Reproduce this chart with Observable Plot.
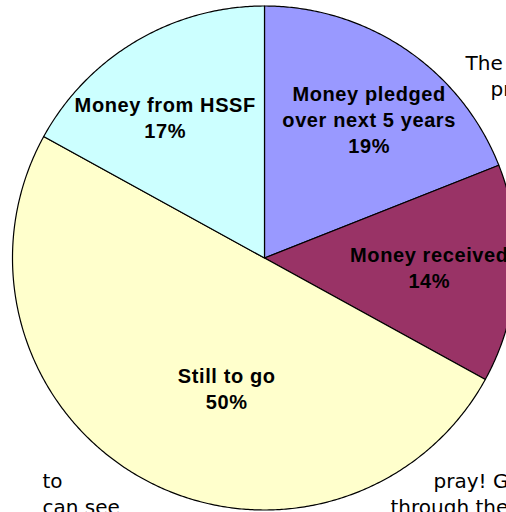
<!DOCTYPE html>
<html>
<head>
<meta charset="utf-8">
<script src="https://cdn.jsdelivr.net/npm/d3@7"></script>
<script src="https://cdn.jsdelivr.net/npm/@observablehq/plot@0.6"></script>
<style>
  html, body { margin: 0; padding: 0; background: #fff; overflow: hidden; }
  #chart svg { display: block; overflow: visible; }
  #chart .slice-label text { letter-spacing: 0.6px; }
</style>
</head>
<body>
<div id="chart"></div>
<script>
// ---- data ----
const categories = ["Money pledged\nover next 5 years", "Money received", "Still to go", "Money from HSSF"];
const shares = [19, 14, 50, 17];
const colors = ["#9999FF", "#993366", "#FFFFCC", "#CCFFFF"];
const backdropWords = ["The", "pr", "to", "can see", "pray! G", "through the"];

// ---- layout ----
const W = 506, H = 512;
const cx = 264, cy = 257.5, R = 252;
const labelRadius = [0.69, 0.655, 0.535, 0.685];
const labelTurn = [2.8, -0.5, -12.5, -4.5]; // degrees, nudging label from mid-angle
const backdropPos = [[465, 69], [490, 95], [42, 487], [42, 513], [433, 487], [390, 513]];

const total = d3.sum(shares);
let acc = 0;
const slices = shares.map((v, i) => {
  const a0 = acc / total * 2 * Math.PI;
  acc += v;
  const a1 = acc / total * 2 * Math.PI;
  return {i, name: categories[i], value: v, a0, a1, color: colors[i]};
});

const pts = [];
for (const s of slices) {
  pts.push({k: s.i, x: cx, y: cy, c: s.color});
  const n = Math.max(8, Math.ceil((s.a1 - s.a0) * 120));
  for (let j = 0; j <= n; j++) {
    const a = s.a0 + (s.a1 - s.a0) * j / n;
    pts.push({k: s.i, x: cx + R * Math.sin(a), y: cy - R * Math.cos(a), c: s.color});
  }
  pts.push({k: s.i, x: cx, y: cy, c: s.color});
}

const labels = slices.map(s => {
  const a = (s.a0 + s.a1) / 2 + labelTurn[s.i] * Math.PI / 180;
  const r = R * labelRadius[s.i];
  return {x: cx + r * Math.sin(a), y: cy - r * Math.cos(a), text: `${s.name}\n${s.value}%`};
});

const backdrop = backdropWords.map((t, i) => ({t, x: backdropPos[i][0], y: backdropPos[i][1]}));

const chart = Plot.plot({
  width: W, height: H,
  margin: 0,
  x: {domain: [0, W], range: [0, W], axis: null},
  y: {domain: [0, H], range: [0, H], axis: null},
  color: {type: "identity"},
  style: {background: "#fff", overflow: "visible"},
  marks: [
    Plot.text(backdrop, {x: "x", y: "y", text: "t", textAnchor: "start", lineAnchor: "bottom",
      fontFamily: "DejaVu Sans, Verdana, sans-serif", fontSize: 20, fill: "#000"}),
    Plot.line(pts, {x: "x", y: "y", z: "k", fill: "c", stroke: "#000", strokeWidth: 1.2,
      strokeLinejoin: "round", curve: "linear"}),
    Plot.text(labels, {x: "x", y: "y", text: "text", fontFamily: "Liberation Sans, Arial, sans-serif",
      fontWeight: "bold", fontSize: 20, lineHeight: 1.3, fill: "#000", className: "slice-label"})
  ]
});
document.getElementById("chart").appendChild(chart);
</script>
</body>
</html>
